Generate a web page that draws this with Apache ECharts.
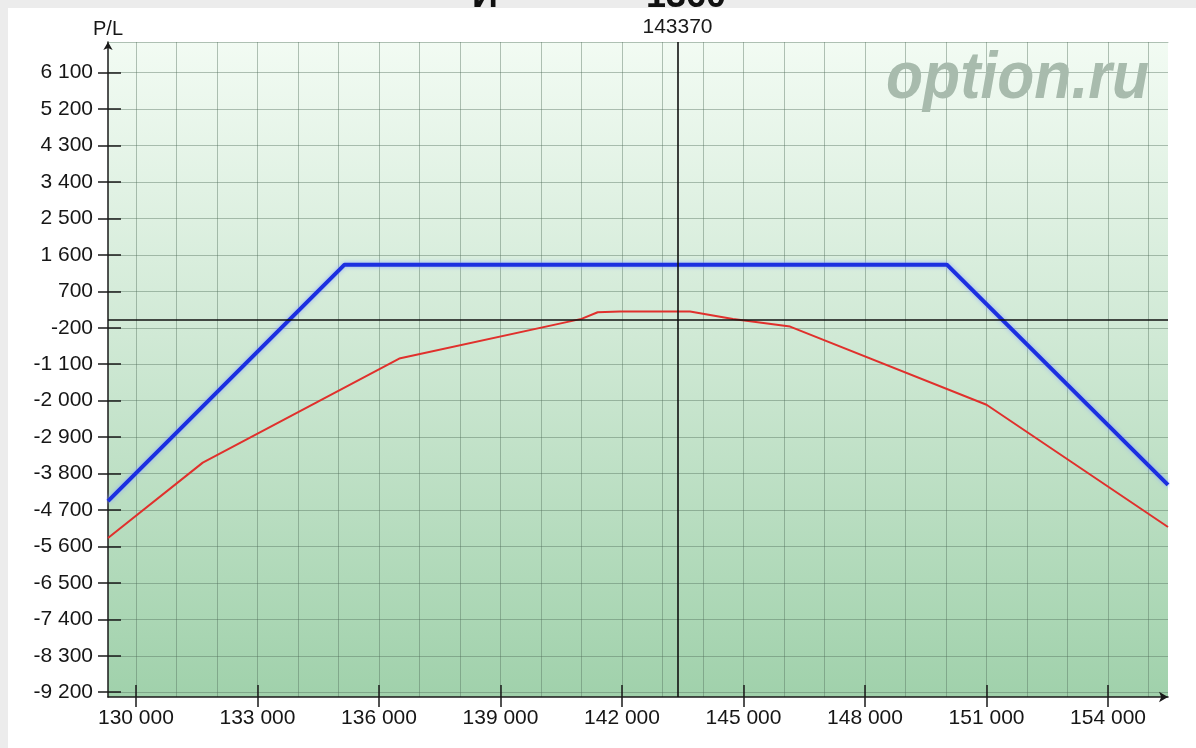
<!DOCTYPE html>
<html>
<head>
<meta charset="utf-8">
<script src="https://cdn.jsdelivr.net/npm/echarts@6/dist/echarts.min.js"></script>
<style>
html,body{margin:0;padding:0;background:#fff;}
#chart{width:1196px;height:748px;}
</style>
</head>
<body>
<div id="chart"></div>
<script>
// ---- data ----
const xRange = [129310, 155480];
const yRange = [-9318, 6858];
const xLabelValues = [130000, 133000, 136000, 139000, 142000, 145000, 148000, 151000, 154000];
const xGridValues = [130000, 131000, 132000, 133000, 134000, 135000, 136000, 137000, 138000, 139000, 140000, 141000, 142000, 143000, 144000, 145000, 146000, 147000, 148000, 149000, 150000, 151000, 152000, 153000, 154000, 155000];
const yLabelValues = [-9200, -8300, -7400, -6500, -5600, -4700, -3800, -2900, -2000, -1100, -200, 700, 1600, 2500, 3400, 4300, 5200, 6100];
const expiryX = [129310, 135150, 150020, 155480];
const expiryPL = [-4480, 1360, 1360, -4080];
const todayX = [129310, 131650, 136500, 141000, 141400, 141950, 143680, 144740, 146150, 151000, 155480];
const todayPL = [-5390, -3530, -960, 20, 185, 205, 205, 15, -170, -2100, -5120];
const spotPrice = 143370;
const titleLeft = 'И';
const titleRight = '1360';
const watermark = 'option.ru';
const yName = 'P/L';

function fmt(v) {
  const s = Math.abs(v).toString().replace(/\B(?=(\d{3})+(?!\d))/g, ' ');
  return (v < 0 ? '-' : '') + s;
}
const pairs = (xs, ys) => xs.map((x, i) => [x, ys[i]]);

const FONT = 'Liberation Sans, Arial, sans-serif';
const gridColor = 'rgba(80,110,90,0.42)';
const axisColor = '#1a1a1a';
const labelColor = '#161616';

const chart = echarts.init(document.getElementById('chart'), null, {renderer: 'canvas'});
const option = {
  animation: false,
  backgroundColor: '#ffffff',
  grid: {
    left: 108, right: 28, top: 42, bottom: 51,
    show: true, borderWidth: 0,
    outerBoundsMode: 'none',
    backgroundColor: {
      type: 'linear', x: 0, y: 0, x2: 0, y2: 1,
      colorStops: [
        {offset: 0, color: '#f2fbf3'},
        {offset: 0.45, color: '#d0e9d5'},
        {offset: 1, color: '#a0d1ab'}
      ]
    }
  },
  xAxis: [
    { // main axis: line, outer ticks, labels
      type: 'value', min: xRange[0], max: xRange[1], position: 'bottom',
      axisLine: {show: true, onZero: false, lineStyle: {color: axisColor, width: 1.5}, symbol: ['none', 'arrow'], symbolSize: [8, 9]},
      axisTick: {show: true, inside: false, length: 10, customValues: xLabelValues, lineStyle: {color: axisColor, width: 1.5}},
      axisLabel: {show: true, customValues: xLabelValues, formatter: fmt, fontSize: 21, fontFamily: FONT, color: labelColor, margin: 11},
      splitLine: {show: false}
    },
    { // grid lines
      type: 'value', min: xRange[0], max: xRange[1], position: 'bottom',
      axisLine: {show: false, onZero: false},
      axisTick: {show: false, customValues: xGridValues},
      axisLabel: {show: false, customValues: xGridValues},
      splitLine: {show: true, lineStyle: {color: gridColor, width: 1}}
    },
    { // inner ticks
      type: 'value', min: xRange[0], max: xRange[1], position: 'bottom',
      axisLine: {show: false, onZero: false},
      axisTick: {show: true, inside: true, length: 12, customValues: xLabelValues, lineStyle: {color: axisColor, width: 1.5}},
      axisLabel: {show: false, customValues: xLabelValues},
      splitLine: {show: false}
    },
    { // top border
      type: 'value', min: xRange[0], max: xRange[1], position: 'top',
      axisLine: {show: true, onZero: false, lineStyle: {color: gridColor, width: 1}},
      axisTick: {show: false}, axisLabel: {show: false}, splitLine: {show: false}
    }
  ],
  yAxis: [
    {
      type: 'value', min: yRange[0], max: yRange[1], position: 'left',
      name: yName, nameLocation: 'end', nameGap: 3,
      nameTextStyle: {fontSize: 20, fontFamily: FONT, color: labelColor, align: 'center'},
      axisLine: {show: true, onZero: false, lineStyle: {color: axisColor, width: 1.5}, symbol: ['none', 'arrow'], symbolSize: [7, 8]},
      axisTick: {show: true, inside: false, length: 10, customValues: yLabelValues, lineStyle: {color: axisColor, width: 1.5}},
      axisLabel: {show: true, customValues: yLabelValues, formatter: fmt, fontSize: 21, fontFamily: FONT, color: labelColor, margin: 15},
      splitLine: {show: true, lineStyle: {color: gridColor, width: 1}}
    },
    {
      type: 'value', min: yRange[0], max: yRange[1], position: 'left',
      axisLine: {show: false, onZero: false},
      axisTick: {show: true, inside: true, length: 13, customValues: yLabelValues, lineStyle: {color: axisColor, width: 1.5}},
      axisLabel: {show: false, customValues: yLabelValues},
      splitLine: {show: false}
    }
  ],
  graphic: [
    {type: 'rect', left: 0, top: 0, z: 0, shape: {width: 1196, height: 8}, style: {fill: '#ececec'}},
    {type: 'rect', left: 0, top: 0, z: 0, shape: {width: 8, height: 748}, style: {fill: '#ececec'}},
    {type: 'text', x: 472, y: -3, z: 10, style: {text: titleLeft, font: 'bold 36px ' + FONT, fill: '#111', verticalAlign: 'middle', align: 'left'}},
    {type: 'text', x: 646, y: -3, z: 10, style: {text: titleRight, font: 'bold 36px ' + FONT, fill: '#111', verticalAlign: 'middle', align: 'left'}},
    {type: 'text', x: 886, y: 80, z: 1, scaleX: 0.92, style: {text: watermark, font: 'italic bold 66px ' + FONT, fill: '#a8bbad', verticalAlign: 'middle', align: 'left'}}
  ],
  series: [
    {
      type: 'line', name: 'today', xAxisIndex: 0, yAxisIndex: 0,
      data: pairs(todayX, todayPL), showSymbol: false, symbol: 'none',
      lineStyle: {color: '#e0302c', width: 2}, z: 3,
      markLine: {
        silent: true, symbol: ['none', 'none'], animation: false,
        lineStyle: {color: '#111', width: 1.6, type: 'solid'},
        data: [
          {xAxis: spotPrice, label: {show: true, position: 'end', formatter: String(spotPrice), fontSize: 21, fontFamily: FONT, color: '#1a1a1a', distance: 4}},
          {yAxis: 0, label: {show: false}}
        ]
      }
    },
    {
      type: 'line', name: 'expiry', xAxisIndex: 0, yAxisIndex: 0,
      data: pairs(expiryX, expiryPL), showSymbol: false, symbol: 'none',
      lineStyle: {color: '#1c2fe0', width: 4, shadowColor: 'rgba(140,165,255,0.9)', shadowBlur: 4}, z: 4
    }
  ]
};
chart.setOption(option);
</script>
</body>
</html>
